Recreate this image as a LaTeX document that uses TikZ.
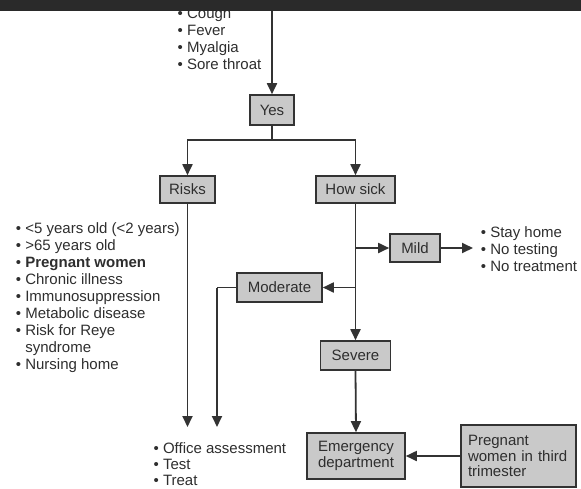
\documentclass[tikz,border=0pt]{standalone}
\usepackage{fontspec}
\setmainfont{Liberation Sans}
\usetikzlibrary{arrows.meta}
\definecolor{lncol}{HTML}{333333}
\definecolor{boxcol}{HTML}{C9C9C9}
\definecolor{barcol}{HTML}{2A2A2A}
\definecolor{txtcol}{HTML}{2E2E2E}
\newcommand{\myfs}{\fontsize{15}{17}\selectfont}
\begin{document}
\begin{tikzpicture}[x=1pt,y=-1pt,
  stepbox/.style={draw=lncol, line width=1.6pt, fill=boxcol, inner sep=0pt, font=\myfs, text=txtcol},
  conn/.style={draw=lncol, line width=1.8pt},
  arr/.style={conn, -{Triangle[length=11pt,width=10pt]}},
  lst/.style={anchor=base west, inner sep=0pt, font=\myfs, text=txtcol}]
\useasboundingbox (0,0) rectangle (581,488);

% boxes
\node[stepbox, minimum width=44, minimum height=30] (yes) at (272,110) {Yes};
\node[stepbox, minimum width=55, minimum height=27] (risks) at (187.5,189.5) {Risks};
\node[stepbox, minimum width=79, minimum height=27] (howsick) at (355.5,189.5) {How sick};
\node[stepbox, minimum width=50, minimum height=28] (mild) at (415,248) {Mild};
\node[stepbox, minimum width=85, minimum height=29] (moderate) at (279.5,287.5) {Moderate};
\node[stepbox, minimum width=70, minimum height=29] (severe) at (355.5,355.5) {Severe};
\node[stepbox, minimum width=98, minimum height=46, align=center,
      font=\fontsize{15}{15.5}\selectfont] (er) at (356,456) {Emergency\\department};
\node[stepbox, minimum width=115, minimum height=62, text width=101, align=left,
      font=\fontsize{15}{15.5}\selectfont] (preg) at (518.5,456) {Pregnant\\women in third\\trimester};

% symptom list (top)
\node[lst] (s1) at (177.5,18) {\textbullet\ Cough};
\node[lst] (s2) at (177.5,35) {\textbullet\ Fever};
\node[lst] (s3) at (177.5,52) {\textbullet\ Myalgia};
\node[lst] (s4) at (177.5,69) {\textbullet\ Sore throat};

% risk list
\node[lst] (r1) at (15.7,233) {\textbullet\ <5 years old (<2 years)};
\node[lst] (r2) at (15.7,250.1) {\textbullet\ >65 years old};
\node[lst] (r3) at (15.7,267.2) {\textbullet\ \textbf{Pregnant women}};
\node[lst] (r4) at (15.7,284.3) {\textbullet\ Chronic illness};
\node[lst] (r5) at (15.7,301.4) {\textbullet\ Immunosuppression};
\node[lst] (r6) at (15.7,318.5) {\textbullet\ Metabolic disease};
\node[lst] (r7) at (15.7,335.6) {\textbullet\ Risk for Reye};
\node[lst] (r8) at (25.1,352.7) {syndrome};
\node[lst] (r9) at (15.7,369.8) {\textbullet\ Nursing home};

% mild list
\node[lst] (m1) at (480.7,237) {\textbullet\ Stay home};
\node[lst] (m2) at (480.7,254) {\textbullet\ No testing};
\node[lst] (m3) at (480.7,271) {\textbullet\ No treatment};

% office list
\node[lst] (o1) at (153.4,453) {\textbullet\ Office assessment};
\node[lst] (o2) at (153.4,469) {\textbullet\ Test};
\node[lst] (o3) at (153.4,485) {\textbullet\ Treat};

% coordinates
\coordinate (top) at (272,0);
\coordinate (split) at (272,140);
\coordinate (riskend) at (187.5,427);
\coordinate (modturn) at (217,287.5);
\coordinate (modend) at (217,427);
\coordinate (mildbr) at (howsick.south |- mild.west);
\coordinate (modbr) at (howsick.south |- moderate.east);
\coordinate (mildend) at (473,248);

% connectors
\draw[arr] (top) -- (yes.north);
\draw[conn] (yes.south) -- (split);
\draw[arr] (split) -| (risks.north);
\draw[arr] (split) -| (howsick.north);
\draw[arr] (risks.south) -- (riskend);
\draw[arr] (howsick.south) -- (severe.north);
\draw[arr] (mildbr) -- (mild.west);
\draw[arr] (modbr) -- (moderate.east);
\draw[conn] (moderate.west) -- (modturn);
\draw[arr] (modturn) -- (modend);
\draw[arr] (mild.east) -- (mildend);
\draw[arr] (severe.south) -- (er.north);
\draw[arr] (preg.west) -- (er.east);

% top dark bar
\fill[barcol] (0,0) rectangle (581,10.5);
\end{tikzpicture}
\end{document}
